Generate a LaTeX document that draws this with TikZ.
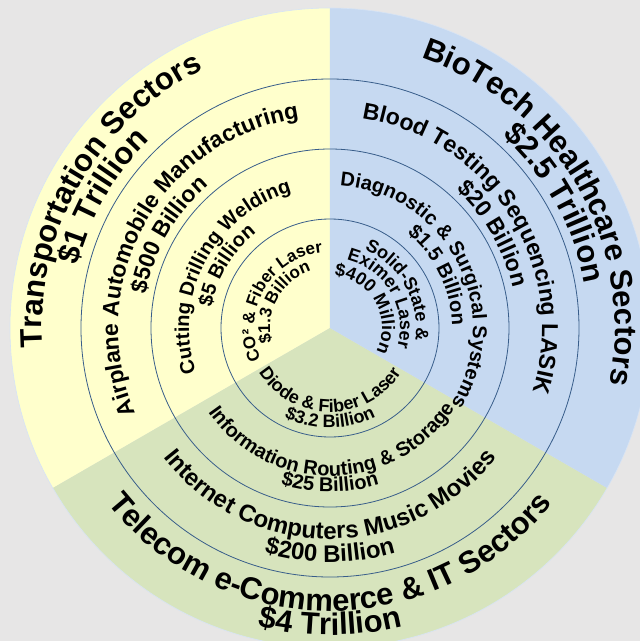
\documentclass[tikz,border=0pt]{standalone}
\usepackage{fontspec}
\setmainfont{Liberation Sans}
\usetikzlibrary{decorations.text}

\definecolor{pagegray}{RGB}{231,230,230}
\definecolor{transyellow}{RGB}{255,255,204}
\definecolor{bioblue}{RGB}{198,217,241}
\definecolor{telegreen}{RGB}{215,228,189}
\definecolor{ringline}{RGB}{56,93,138}

\newcommand{\fsector}{\bfseries\fontsize{31}{31}\selectfont}
\newcommand{\fmarket}{\bfseries\fontsize{23}{23}\selectfont}
\newcommand{\fmarketlow}{\bfseries\fontsize{24}{24}\selectfont}
\newcommand{\fapp}{\bfseries\fontsize{20}{20}\selectfont}
\newcommand{\flaser}{\bfseries\fontsize{18}{18}\selectfont}
\newcommand{\flaserco}{\bfseries\fontsize{17}{17}\selectfont}

\begin{document}
\begin{tikzpicture}

		\tikzstyle{sector} = [line width=0pt]
		
		\tikzstyle{ring} = [draw=ringline, line width=0.8pt]
		
		\tikzstyle{curved} = [decorate, decoration={text along path, text align=center}]
		
		\fill[pagegray] (-330pt,-313pt) rectangle (310pt,328pt);
		\useasboundingbox (-330pt,-313pt) rectangle (310pt,328pt);
		
		% three sectors
		\fill[sector, transyellow] (0,0) -- (90:320pt) arc[start angle=90, end angle=210, radius=320pt] -- cycle;
		\fill[sector, telegreen] (0,0) -- (210:320pt) arc[start angle=210, end angle=330, radius=320pt] -- cycle;
		\fill[sector, bioblue] (0,0) -- (330:320pt) arc[start angle=330, end angle=450, radius=320pt] -- cycle;
		\draw[bioblue!70!white, line width=0.6pt] (0,0) circle (320pt);
		
		\draw[ring] (0,0) circle (249pt);
		\draw[ring] (0,0) circle (179pt);
		\draw[ring] (0,0) circle (109pt);
		
		% transportation
		\path[curved, decoration={text={|\fsector|Transportation Sectors}}] (240:288pt) arc[start angle=240, end angle=60, radius=288pt];
		\path[curved, decoration={text={|\fsector|{\$}1 Trillion}}] (240:260pt) arc[start angle=240, end angle=60, radius=260pt];
		\path[curved, decoration={text={|\fmarket|Airplane Automobile Manufacturing}}] (241:212pt) arc[start angle=241, end angle=61, radius=212pt];
		\path[curved, decoration={text={|\fmarket|{\$}500 Billion}}] (240:187pt) arc[start angle=240, end angle=60, radius=187pt];
		\path[curved, decoration={text={|\fapp|Cutting Drilling Welding}}] (242:141pt) arc[start angle=242, end angle=62, radius=141pt];
		\path[curved, decoration={text={|\fapp|{\$}5 Billion}}] (239:120pt) arc[start angle=239, end angle=59, radius=120pt];
		\path[curved, decoration={text={|\flaserco|CO² {\&} Fiber Laser}}] (240:76pt) arc[start angle=240, end angle=60, radius=76pt];
		\path[curved, decoration={text={|\flaserco|{\$}1.3 Billion}}] (241:60pt) arc[start angle=241, end angle=61, radius=60pt];
		
		% biotech
		\path[curved, decoration={text={|\fsector|BioTech Healthcare Sectors}}] (120:285pt) arc[start angle=120, end angle=-60, radius=285pt];
		\path[curved, decoration={text={|\fsector|{\$}2.5 Trillion}}] (119:258pt) arc[start angle=119, end angle=-61, radius=258pt];
		\path[curved, decoration={text={|\fmarket|Blood Testing Sequencing LASIK}}] (122:212pt) arc[start angle=122, end angle=-58, radius=212pt];
		\path[curved, decoration={text={|\fmarket|{\$}20 Billion}}] (120:187pt) arc[start angle=120, end angle=-60, radius=187pt];
		\path[curved, decoration={text={|\fapp|Diagnostic {\&} Surgical Systems}}] (117:143pt) arc[start angle=117, end angle=-63, radius=143pt];
		\path[curved, decoration={text={|\fapp|{\$}1.5 Billion}}] (116:122pt) arc[start angle=116, end angle=-64, radius=122pt];
		\path[curved, decoration={text={|\flaser|Solid-State {\&}}}] (119:86pt) arc[start angle=119, end angle=-61, radius=86pt];
		\path[curved, decoration={text={|\flaser|Eximer Laser}}] (120:70pt) arc[start angle=120, end angle=-60, radius=70pt];
		\path[curved, decoration={text={|\flaser|{\$}400 Million}}] (119:52pt) arc[start angle=119, end angle=-61, radius=52pt];
		
		% telecom
		\path[curved, decoration={text={|\fsector|Telecom e-Commerce {\&} IT Sectors}}] (180:283pt) arc[start angle=180, end angle=360, radius=283pt];
		\path[curved, decoration={text={|\fsector|{\$}4 Trillion}}] (180:307pt) arc[start angle=180, end angle=360, radius=307pt];
		\path[curved, decoration={text={|\fmarketlow|Internet Computers Music Movies}}] (180:211pt) arc[start angle=180, end angle=360, radius=211pt];
		\path[curved, decoration={text={|\fmarketlow|{\$}200 Billion}}] (180:234pt) arc[start angle=180, end angle=360, radius=234pt];
		\path[curved, decoration={text={|\fapp|Information Routing {\&} Storage}}] (181:148pt) arc[start angle=181, end angle=361, radius=148pt];
		\path[curved, decoration={text={|\fapp|{\$}25 Billion}}] (180:164pt) arc[start angle=180, end angle=360, radius=164pt];
		\path[curved, decoration={text={|\flaser|Diode {\&} Fiber Laser}}] (180:84pt) arc[start angle=180, end angle=360, radius=84pt];
		\path[curved, decoration={text={|\flaser|{\$}3.2 Billion}}] (180:100pt) arc[start angle=180, end angle=360, radius=100pt];
	\end{tikzpicture}
\end{document}
